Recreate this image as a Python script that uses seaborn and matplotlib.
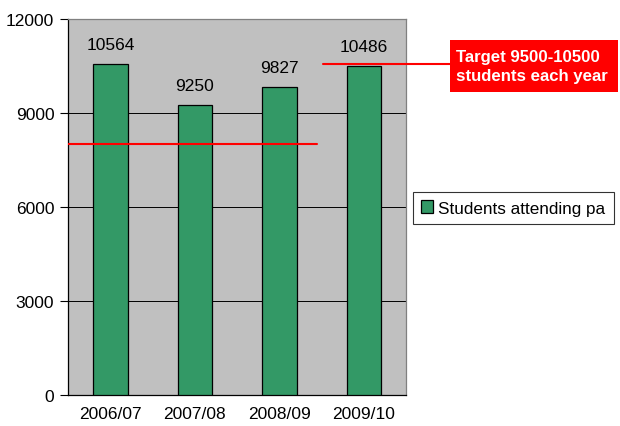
import matplotlib
matplotlib.use("Agg")
import matplotlib.pyplot as plt
import matplotlib.patches as mpatches
import seaborn as sns
import pandas as pd

# --- data ---
years = ["2006/07", "2007/08", "2008/09", "2009/10"]
students = [10564, 9250, 9827, 10486]
series_name = "Students attending pa"
ref_line = 8000          # red line across the first three bars
target_line = 10560      # red connector to the target box
target_text = "Target 9500-10500\nstudents each year"

df = pd.DataFrame({"year": years, "students": students})

sns.set_style("white")
plt.rcParams["font.family"] = ["Liberation Sans", "DejaVu Sans"]
plt.rcParams["text.color"] = "black"
plt.rcParams["xtick.color"] = "black"
plt.rcParams["ytick.color"] = "black"

fig = plt.figure(figsize=(6.2, 4.27), dpi=100)
ax = fig.add_axes([0.110, 0.073, 0.545, 0.880])
ax.set_facecolor("#C0C0C0")

sns.barplot(data=df, x="year", y="students", color="#339966", width=0.41,
            edgecolor="black", linewidth=0.9, saturation=1, ax=ax,
            label=series_name, zorder=3)

ax.set_ylim(0, 12000)
ax.set_xlim(-0.5, 3.5)
ax.set_yticks([0, 3000, 6000, 9000, 12000])
ax.yaxis.grid(True, color="black", linewidth=0.7, zorder=0)
ax.set_axisbelow(True)
ax.set_xlabel("")
ax.set_ylabel("")

# ticks between categories, labels in the middle
ax.set_xticks([-0.5, 0.5, 1.5, 2.5, 3.5], minor=True)
ax.tick_params(axis="x", which="major", length=0, labelsize=12.5, pad=8)
ax.tick_params(axis="x", which="minor", length=5, color="black")
ax.tick_params(axis="y", length=6, labelsize=12.5, left=True, color="black", pad=4)

for s in ["left", "bottom"]:
    ax.spines[s].set_color("black")
    ax.spines[s].set_linewidth(0.9)
for s in ["top", "right"]:
    ax.spines[s].set_color("#808080")
    ax.spines[s].set_linewidth(0.9)

# value labels
for i, v in enumerate(students):
    ax.text(i, v + 400, str(v), ha="center", va="bottom", fontsize=12.5, zorder=4)

# red lines
ax.plot([-0.5, 2.44], [ref_line, ref_line], color="red", linewidth=1.5, zorder=5)
ax.plot([2.52, 4.02], [target_line, target_line], color="red", linewidth=1.5,
        zorder=5, clip_on=False)

# target box
fig.patches.append(mpatches.Rectangle((0.726, 0.782), 0.271, 0.122,
                                      transform=fig.transFigure,
                                      facecolor="red", edgecolor="none"))
fig.text(0.735, 0.843, target_text, ha="left", va="center", color="white",
         fontsize=12.1, fontweight="bold", linespacing=1.35)

leg = ax.legend(loc="center left", bbox_to_anchor=(1.02, 0.497), frameon=True,
                fancybox=False, edgecolor="black", fontsize=12.3,
                handlelength=0.65, handleheight=0.8, handletextpad=0.35,
                borderpad=0.5, borderaxespad=0)
leg.get_frame().set_linewidth(0.8)

fig.savefig("out.png", dpi=100, facecolor="white")
